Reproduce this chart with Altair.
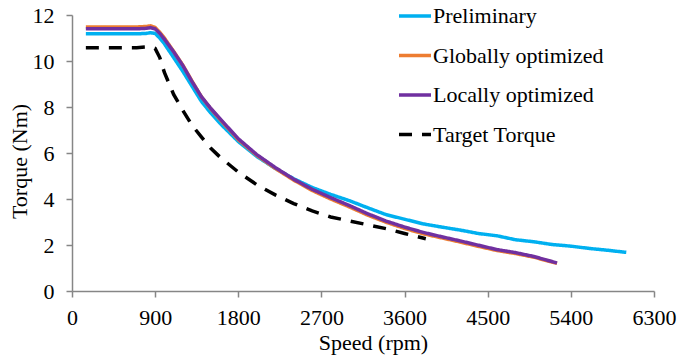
import altair as alt
import pandas as pd

series_names = ["Preliminary", "Globally optimized", "Locally optimized", "Target Torque"]
series_colors = ["#00B0F0", "#ED7D31", "#7030A0", "#000000"]

speed_prelim = [150, 300, 500, 700, 800, 850, 900, 950, 1000, 1100, 1200, 1300, 1400, 1500, 1600,
                1800, 2000, 2200, 2400, 2600, 2800, 3000, 3200, 3400, 3600, 3800, 4000, 4200, 4400,
                4600, 4800, 5000, 5200, 5400, 5600, 5800, 6000]
torque_prelim = [11.18, 11.18, 11.18, 11.18, 11.20, 11.23, 11.20, 11.00, 10.75, 10.15, 9.55, 8.90,
                 8.25, 7.75, 7.30, 6.50, 5.85, 5.33, 4.88, 4.50, 4.20, 3.93, 3.62, 3.32, 3.12, 2.92,
                 2.78, 2.65, 2.50, 2.40, 2.23, 2.14, 2.02, 1.95, 1.85, 1.77, 1.68]

speed_opt = [150, 300, 500, 700, 800, 850, 900, 950, 1000, 1100, 1200, 1300, 1400, 1500, 1600,
             1800, 2000, 2200, 2400, 2600, 2800, 3000, 3200, 3400, 3600, 3800, 4000, 4200, 4400,
             4600, 4800, 5000, 5250]
torque_global = [11.48, 11.48, 11.48, 11.48, 11.50, 11.53, 11.46, 11.25, 11.00, 10.42, 9.82, 9.12,
                 8.45, 7.93, 7.47, 6.58, 5.90, 5.33, 4.82, 4.37, 4.00, 3.66, 3.30, 2.99, 2.72, 2.49,
                 2.31, 2.13, 1.94, 1.76, 1.63, 1.47, 1.20]
torque_local = [11.40, 11.40, 11.40, 11.40, 11.42, 11.45, 11.40, 11.20, 10.95, 10.40, 9.80, 9.10,
                8.45, 7.95, 7.50, 6.62, 5.93, 5.37, 4.86, 4.42, 4.06, 3.72, 3.36, 3.04, 2.78, 2.55,
                2.36, 2.18, 1.99, 1.80, 1.67, 1.50, 1.22]

speed_target = [150, 300, 500, 700, 850, 900, 950, 1000, 1100, 1200, 1300, 1400, 1500, 1600, 1800,
                2000, 2200, 2400, 2600, 2800, 3000, 3200, 3400, 3600, 3830]
torque_target = [10.58, 10.58, 10.58, 10.58, 10.62, 10.55, 10.15, 9.50, 8.55, 7.85, 7.20, 6.70,
                 6.22, 5.83, 5.17, 4.62, 4.18, 3.80, 3.48, 3.22, 3.05, 2.88, 2.71, 2.50, 2.27]

x_ticks = [0, 900, 1800, 2700, 3600, 4500, 5400, 6300]
y_ticks = [0, 2, 4, 6, 8, 10, 12]

rows = []
for name, sp, tq in [
    (series_names[0], speed_prelim, torque_prelim),
    (series_names[1], speed_opt, torque_global),
    (series_names[2], speed_opt, torque_local),
    (series_names[3], speed_target, torque_target),
]:
    for i, (s, t) in enumerate(zip(sp, tq)):
        rows.append({"series": name, "speed": s, "torque": t, "idx": i})
df = pd.DataFrame(rows)

FONT = "Liberation Serif"

legend_opts = dict(orient="none", legendX=325, legendY=-17,
                   symbolType="stroke", symbolSize=1024,
                   symbolStrokeWidth=3.5, labelOffset=0,
                   rowPadding=10.5, padding=0,
                   labelFont=FONT, labelFontSize=22,
                   labelColor="#000000", labelLimit=400)

base = alt.Chart(df).mark_line(strokeWidth=3.5).encode(
    x=alt.X("speed:Q", title="Speed (rpm)",
            scale=alt.Scale(domain=[0, 6300], nice=False),
            axis=alt.Axis(values=x_ticks, format="d", grid=False, tickSize=6, labelPadding=10,
                          titlePadding=4, titleX=301, labelFlush=False)),
    y=alt.Y("torque:Q", title="Torque (Nm)",
            scale=alt.Scale(domain=[0, 12], nice=False),
            axis=alt.Axis(values=y_ticks, format="d", grid=False, tickSize=6, labelPadding=12,
                          titlePadding=1, titleY=146)),
    order="idx:Q",
    color=alt.Color("series:N", title=None,
                    scale=alt.Scale(domain=series_names, range=series_colors),
                    legend=alt.Legend(**legend_opts)),
    strokeDash=alt.StrokeDash("series:N", title=None,
                              scale=alt.Scale(domain=series_names,
                                              range=[[1, 0], [1, 0], [1, 0], [13, 10]]),
                              legend=alt.Legend(**legend_opts)),
)

layers = [base.transform_filter(alt.datum.series == s) for s in series_names]

chart = alt.layer(*layers).properties(
    width=582, height=276,
    autosize=alt.AutoSizeParams(type="none"),
    padding={"left": 72, "top": 15, "right": 27, "bottom": 69},
).configure_view(stroke=None).configure_axis(
    domainColor="#868686", tickColor="#868686", domainWidth=1.5, tickWidth=1.5,
    labelFont=FONT, labelFontSize=22, labelColor="#000000",
    titleFont=FONT, titleFontSize=22, titleColor="#000000", titleFontWeight="normal",
)

chart.save("out.html", embed_options={"renderer": "svg", "actions": False})
